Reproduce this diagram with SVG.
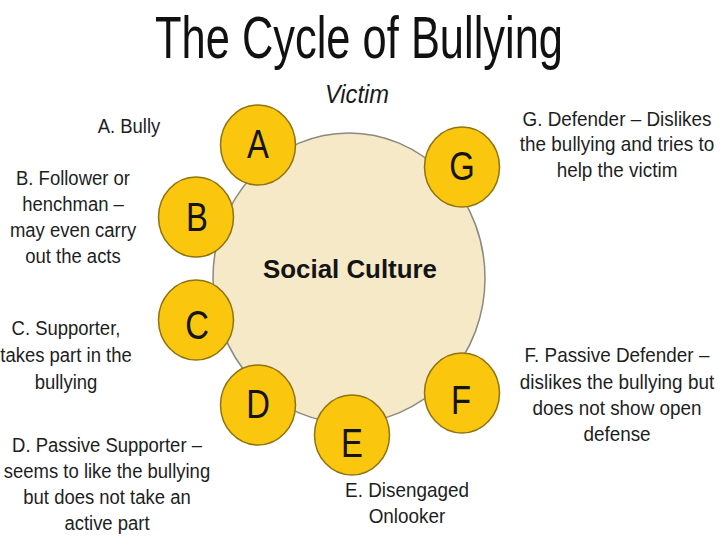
<svg xmlns="http://www.w3.org/2000/svg" width="720" height="540" viewBox="0 0 720 540">
<style>
  .lbl { font-family: "Liberation Sans", Arial, Helvetica, sans-serif; font-size: 21px; fill: #1e1e1e; text-anchor: middle; }
  .ltr { font-family: "Liberation Sans", Arial, Helvetica, sans-serif; font-size: 41px; fill: #141414; text-anchor: middle; }
  .role { fill: #FAC60E; stroke: #8F7410; stroke-width: 1.5; }
</style>
<rect width="720" height="540" fill="#ffffff"/>
<text x="359" y="58" font-family="'Liberation Sans', Arial, Helvetica, sans-serif" font-size="60" fill="#111" text-anchor="middle" textLength="408" lengthAdjust="spacingAndGlyphs">The Cycle of Bullying</text>
<text x="357" y="103" font-family="'Liberation Sans', Arial, Helvetica, sans-serif" font-size="25" font-style="italic" fill="#1a1a1a" text-anchor="middle" textLength="64" lengthAdjust="spacingAndGlyphs">Victim</text>

<g id="social-culture">
  <ellipse cx="349" cy="278" rx="136" ry="145" fill="#F5E9C8" stroke="#8A8A80" stroke-width="1.5"/>
  <text x="350" y="278" font-family="'Liberation Sans', Arial, Helvetica, sans-serif" font-size="25" font-weight="bold" fill="#141414" text-anchor="middle" textLength="174" lengthAdjust="spacingAndGlyphs">Social Culture</text>
</g>

<g id="connectors"></g>

<g id="node-A">
  <ellipse class="role" cx="258" cy="145" rx="37.5" ry="40"/>
  <text class="ltr" transform="translate(258 0) scale(0.8 1)" x="0" y="158">A</text>
</g>
<g id="node-B">
  <ellipse class="role" cx="196" cy="217" rx="37.5" ry="40"/>
  <text class="ltr" transform="translate(197 0) scale(0.8 1)" x="0" y="231">B</text>
</g>
<g id="node-C">
  <ellipse class="role" cx="196" cy="320" rx="37.5" ry="40"/>
  <text class="ltr" transform="translate(197 0) scale(0.8 1)" x="0" y="339">C</text>
</g>
<g id="node-D">
  <ellipse class="role" cx="258" cy="405" rx="37.5" ry="40"/>
  <text class="ltr" transform="translate(258 0) scale(0.8 1)" x="0" y="418">D</text>
</g>
<g id="node-E">
  <ellipse class="role" cx="352" cy="435" rx="37.5" ry="40"/>
  <text class="ltr" transform="translate(352 0) scale(0.8 1)" x="0" y="457">E</text>
</g>
<g id="node-F">
  <ellipse class="role" cx="462" cy="393" rx="37.5" ry="40"/>
  <text class="ltr" transform="translate(461 0) scale(0.8 1)" x="0" y="414">F</text>
</g>
<g id="node-G">
  <ellipse class="role" cx="462" cy="167" rx="37.5" ry="40"/>
  <text class="ltr" transform="translate(462 0) scale(0.8 1)" x="0" y="180">G</text>
</g>

<g id="label-A" transform="translate(129 0) scale(0.88 1)">
  <text class="lbl" x="0" y="133">A. Bully</text>
</g>
<g id="label-B" transform="translate(73 0) scale(0.88 1)">
  <text class="lbl" x="0" y="185">B. Follower or</text>
  <text class="lbl" x="0" y="211">henchman –</text>
  <text class="lbl" x="0" y="237">may even carry</text>
  <text class="lbl" x="0" y="263">out the acts</text>
</g>
<g id="label-C" transform="translate(66 0) scale(0.88 1)">
  <text class="lbl" x="0" y="335">C. Supporter,</text>
  <text class="lbl" x="0" y="362">takes part in the</text>
  <text class="lbl" x="0" y="389">bullying</text>
</g>
<g id="label-D" transform="translate(107 0) scale(0.88 1)">
  <text class="lbl" x="0" y="452">D. Passive Supporter –</text>
  <text class="lbl" x="0" y="478">seems to like the bullying</text>
  <text class="lbl" x="0" y="504">but does not take an</text>
  <text class="lbl" x="0" y="530">active part</text>
</g>
<g id="label-E" transform="translate(407 0) scale(0.9 1)">
  <text class="lbl" x="0" y="497">E. Disengaged</text>
  <text class="lbl" x="0" y="523">Onlooker</text>
</g>
<g id="label-F" transform="translate(617 0) scale(0.9 1)">
  <text class="lbl" x="0" y="362">F. Passive Defender –</text>
  <text class="lbl" x="0" y="389">dislikes the bullying but</text>
  <text class="lbl" x="0" y="415">does not show open</text>
  <text class="lbl" x="0" y="441">defense</text>
</g>
<g id="label-G" transform="translate(617 0) scale(0.9 1)">
  <text class="lbl" x="0" y="126">G. Defender – Dislikes</text>
  <text class="lbl" x="0" y="151">the bullying and tries to</text>
  <text class="lbl" x="0" y="177">help the victim</text>
</g>
</svg>
